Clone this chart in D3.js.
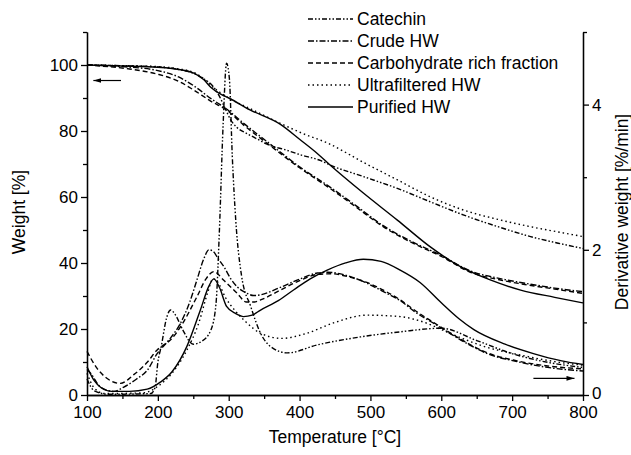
<!DOCTYPE html>
<html>
<head>
<meta charset="utf-8">
<script src="https://cdn.jsdelivr.net/npm/d3@7"></script>
<style>
  body { margin: 0; background: #fff; }
  svg, svg text { font-family: "Liberation Sans", Arial, sans-serif; }
  .axis path, .axis line { stroke: #000; stroke-width: 1.3; }
  .axis text { font-size: 17px; fill: #000; font-family: "Liberation Sans", Arial, sans-serif; }
</style>
</head>
<body>
<div id="chart"></div>
<script>
// temperature [°C] , weight [%]  (TG curves, left axis)
var catechinTG = [[100,100],[150,99.8],[200,99.4],[230,98.6],[250,97.5],[265,95.8],[278,93.5],[287,90.5],[295,86.8],[303,83.3],[312,81],[325,79.3],[340,77.6],[354,76],[380,74.3],[401,72.8],[430,71],[443,69.7],[490,66.2],[538,62.6],[585,58.5],[632,54.5],[680,51],[726,48],[765,46],[800,44.4]];
var crudeTG = [[100,100],[150,99.5],[200,98.3],[230,96.3],[250,93.8],[275,89.8],[298,86.5],[320,82.5],[354,76.8],[401,69],[443,63],[480,57.3],[518,51.3],[560,46.3],[600,42.3],[641,37.6],[680,35.4],[712,34.1],[760,32.4],[800,31.3]];
var carbTG = [[100,100],[130,99.5],[160,98.8],[200,97.2],[230,95],[250,92.5],[275,89],[298,86.2],[320,82],[354,76.3],[401,68.7],[443,62.6],[480,56.9],[518,51],[560,46],[600,42],[641,37.2],[680,35],[712,33.7],[760,32.1],[800,30.8]];
var ultraTG = [[100,100],[150,99.8],[200,99.5],[230,98.8],[250,97.8],[265,95.8],[275,93.8],[300,90],[330,86.8],[373,82.3],[405,79.2],[440,76.3],[490,70.5],[538,65.2],[585,60],[632,56],[680,53.2],[726,51],[770,49.2],[800,48]];
var purifiedTG = [[100,100],[150,99.7],[200,99.3],[225,98.8],[250,97.6],[265,95.5],[275,93.2],[290,91],[300,90],[330,86.4],[373,82],[400,77.5],[425,73.2],[443,69.7],[490,61.2],[538,53],[585,44.8],[627,38.9],[670,34.8],[712,31.8],[760,29.6],[800,27.9]];

// temperature [°C] , derivative weight [%/min]  (DTG curves, right axis)
var catechinDTG = [[100,0.22],[110,0.06],[130,0.01],[190,0.02],[196,0.1],[200,0.45],[205,0.68],[212,1.05],[218,1.17],[225,1.1],[235,0.9],[250,0.7],[262,0.74],[275,0.9],[282,1.25],[287,2.3],[292,3.7],[297,4.57],[301,4.35],[305,3.3],[310,2.4],[318,1.65],[331,1.22],[345,0.85],[360,0.66],[383,0.58],[425,0.69],[486,0.8],[542,0.87],[600,0.92],[650,0.75],[700,0.57],[750,0.45],[800,0.38]];
var crudeDTG = [[100,0.35],[105,0.3],[119,0.11],[138,0.05],[152,0.11],[170,0.22],[185,0.34],[199,0.57],[215,0.75],[232,0.99],[245,1.28],[255,1.58],[265,1.88],[272,2.0],[278,1.98],[285,1.88],[293,1.77],[303,1.6],[312,1.49],[326,1.4],[335,1.37],[345,1.38],[370,1.47],[401,1.6],[425,1.68],[439,1.69],[472,1.63],[495,1.54],[519,1.42],[542,1.3],[565,1.13],[589,0.99],[612,0.85],[636,0.71],[665,0.57],[707,0.46],[750,0.38],[800,0.33]];
var carbDTG = [[100,0.6],[114,0.37],[128,0.23],[147,0.16],[166,0.28],[185,0.45],[199,0.62],[210,0.7],[218,0.76],[232,0.94],[255,1.35],[268,1.6],[279,1.7],[293,1.58],[312,1.4],[325,1.28],[335,1.28],[345,1.31],[370,1.43],[401,1.58],[425,1.66],[445,1.67],[472,1.62],[495,1.55],[519,1.44],[542,1.31],[565,1.15],[589,1.0],[612,0.86],[636,0.72],[665,0.58],[707,0.47],[750,0.4],[800,0.36]];
var ultraDTG = [[100,0.3],[110,0.1],[125,0.02],[180,0.03],[200,0.12],[220,0.3],[240,0.6],[258,1.0],[270,1.4],[278,1.6],[285,1.55],[295,1.35],[310,1.15],[325,1.0],[345,0.85],[375,0.78],[410,0.85],[450,1.0],[495,1.1],[542,1.08],[570,1.02],[617,0.83],[660,0.67],[712,0.55],[760,0.46],[800,0.41]];
var purifiedDTG = [[100,0.39],[110,0.2],[120,0.1],[135,0.05],[160,0.05],[185,0.08],[204,0.18],[220,0.32],[241,0.67],[260,1.17],[272,1.5],[279,1.6],[287,1.48],[297,1.22],[310,1.12],[321,1.08],[333,1.1],[345,1.17],[370,1.3],[392,1.45],[415,1.6],[439,1.72],[465,1.82],[490,1.87],[515,1.84],[542,1.72],[570,1.55],[600,1.27],[625,1.05],[646,0.9],[690,0.7],[730,0.57],[770,0.47],[800,0.42]];

var seriesNames = ["Catechin", "Crude HW", "Carbohydrate rich fraction", "Ultrafiltered HW", "Purified HW"];
var seriesDash = ["5,2,1.5,2,1.5,2", "6,2,1.5,2", "5,3", "1.5,3", null];

var xTicks = [100, 200, 300, 400, 500, 600, 700, 800],
    xMinor = [150, 250, 350, 450, 550, 650, 750],
    yTicks = [0, 20, 40, 60, 80, 100],
    yMinor = [10, 30, 50, 70, 90, 110],
    y2Ticks = [0, 2, 4],
    y2Minor = [1, 3, 5];

var w = 631, h = 455,
    margin = {top: 32, right: 48, bottom: 60, left: 87};

var svg = d3.select("#chart").append("svg")
    .attr("width", w)
    .attr("height", h)
    .style("background-color", "white");

var width = 583 - margin.left,
    height = 395 - margin.top;

var g = svg.append("g").attr("transform", "translate(" + margin.left + "," + margin.top + ")");

var x = d3.scaleLinear().domain([100, 800]).range([0, width]);
var y = d3.scaleLinear().domain([0, 110]).range([height, 0]);
var y2 = d3.scaleLinear().domain([0, 5]).range([height, 0]);

// axes
g.append("g").attr("class", "axis")
    .attr("transform", "translate(0," + height + ")")
    .call(d3.axisBottom(x).tickValues(xTicks).tickSize(6).tickSizeOuter(0).tickPadding(5));
g.append("g").attr("class", "axis")
    .attr("transform", "translate(0," + height + ")")
    .call(d3.axisBottom(x).tickValues(xMinor).tickSize(4).tickSizeOuter(0).tickFormat(""));

g.append("g").attr("class", "axis")
    .call(d3.axisLeft(y).tickValues(yTicks).tickSize(6).tickSizeOuter(0).tickPadding(3));
g.append("g").attr("class", "axis")
    .call(d3.axisLeft(y).tickValues(yMinor).tickSize(4).tickSizeOuter(0).tickFormat(""));

g.append("g").attr("class", "axis")
    .attr("transform", "translate(" + width + ",0)")
    .call(d3.axisRight(y2).tickValues(y2Ticks).tickFormat(d3.format("d")).tickSize(6).tickSizeOuter(0).tickPadding(3));
g.append("g").attr("class", "axis")
    .attr("transform", "translate(" + width + ",0)")
    .call(d3.axisRight(y2).tickValues(y2Minor).tickSize(4).tickSizeOuter(0).tickFormat(""));

// the right "0" sits just above the last bottom label
g.selectAll(".axis text").filter(function (d) { return d === 0 && this.getAttribute("x") > 0; })
    .attr("dy", "0.22em");

// axis titles
svg.append("text")
    .attr("x", margin.left + width / 2)
    .attr("y", 443)
    .attr("text-anchor", "middle")
    .style("font-size", "17.5px")
    .text("Temperature [°C]");

svg.append("text")
    .attr("transform", "translate(25," + 212 + ") rotate(-90)")
    .attr("text-anchor", "middle")
    .style("font-size", "17.5px")
    .text("Weight [%]");

svg.append("text")
    .attr("transform", "translate(628," + 212 + ") rotate(-90)")
    .attr("text-anchor", "middle")
    .style("font-size", "17.5px")
    .text("Derivative weight [%/min]");

// curves
var lineW = d3.line().curve(d3.curveMonotoneX)
    .x(function (d) { return x(d[0]); })
    .y(function (d) { return y(d[1]); });
var lineD = d3.line().curve(d3.curveMonotoneX)
    .x(function (d) { return x(d[0]); })
    .y(function (d) { return y2(d[1]); });

var tgData = [catechinTG, crudeTG, carbTG, ultraTG, purifiedTG];
var dtgData = [catechinDTG, crudeDTG, carbDTG, ultraDTG, purifiedDTG];

tgData.forEach(function (d, i) {
    g.append("path")
        .attr("d", lineW(d))
        .attr("fill", "none")
        .attr("stroke", "black")
        .attr("stroke-width", 1.4)
        .attr("stroke-dasharray", seriesDash[i]);
});
dtgData.forEach(function (d, i) {
    g.append("path")
        .attr("d", lineD(d))
        .attr("fill", "none")
        .attr("stroke", "black")
        .attr("stroke-width", 1.4)
        .attr("stroke-dasharray", seriesDash[i]);
});

// arrows pointing to the matching axis
svg.append("defs").append("marker")
    .attr("id", "arr")
    .attr("viewBox", "0 0 10 6")
    .attr("refX", 10).attr("refY", 3)
    .attr("markerWidth", 8).attr("markerHeight", 5)
    .attr("markerUnits", "userSpaceOnUse")
    .attr("orient", "auto")
    .append("path").attr("d", "M0,0L10,3L0,6Z").attr("fill", "black");

g.append("line")
    .attr("x1", x(148)).attr("x2", x(109))
    .attr("y1", y(95.3)).attr("y2", y(95.3))
    .attr("stroke", "black").attr("stroke-width", 1.2)
    .attr("marker-end", "url(#arr)");
g.append("line")
    .attr("x1", x(730)).attr("x2", x(788))
    .attr("y1", y2(0.23)).attr("y2", y2(0.23))
    .attr("stroke", "black").attr("stroke-width", 1.2)
    .attr("marker-end", "url(#arr)");

// legend
var legend = svg.append("g").attr("transform", "translate(308,19)");
seriesNames.forEach(function (name, i) {
    var row = legend.append("g").attr("transform", "translate(0," + (i * 22) + ")");
    row.append("line")
        .attr("x1", 0).attr("x2", 45)
        .attr("stroke", "black")
        .attr("stroke-width", 1.4)
        .attr("stroke-dasharray", seriesDash[i]);
    row.append("text")
        .attr("x", 49)
        .attr("dy", "0.35em")
        .style("font-size", "17.5px")
        .text(name);
});
</script>
</body>
</html>
